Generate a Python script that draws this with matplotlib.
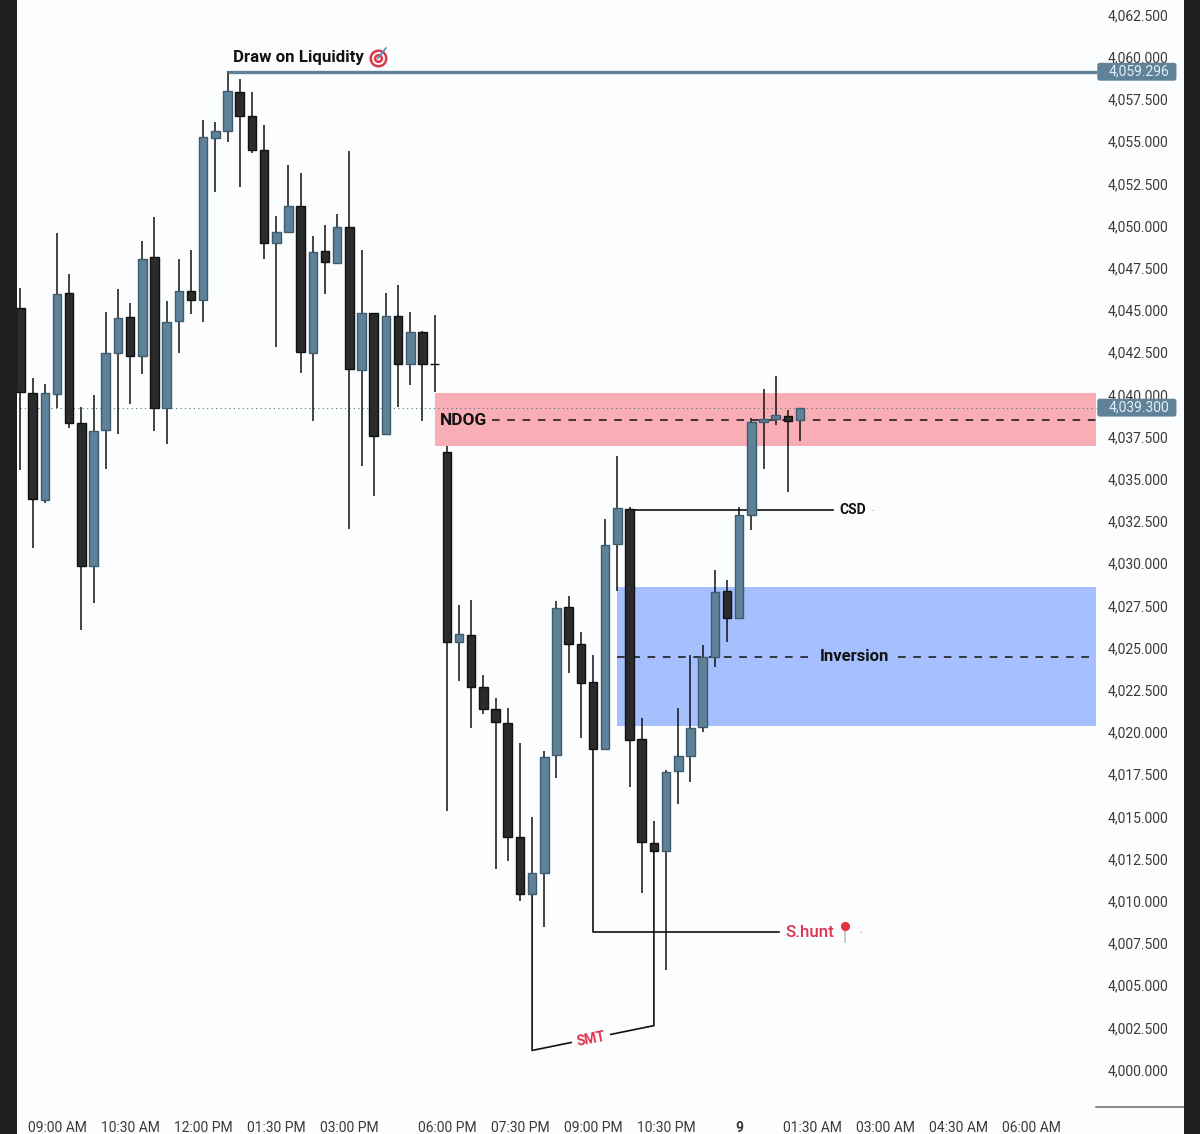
import numpy as np
import matplotlib
matplotlib.use("Agg")
import matplotlib.pyplot as plt
from matplotlib.patches import FancyBboxPatch
from matplotlib.ticker import StrMethodFormatter

plt.rcParams["font.family"] = ["Roboto", "DejaVu Sans"]

BLUE = "#5f8299"
BLUE_EDGE = "#3f5c6f"
DARK = "#2b2b2b"
BG = "#fcfdfe"
RED = "#e0324c"

highs = [4046.39, 4041.06, 4040.70, 4049.65, 4047.22, 4039.34, 4040.05, 4044.97, 4046.33, 4045.50,
         4049.17, 4050.59, 4045.62, 4048.11, 4048.64, 4056.34, 4056.22, 4059.24, 4058.77, 4058.00,
         4056.04, 4050.65, 4053.68, 4053.20, 4049.47, 4050.12, 4050.77, 4054.50, 4048.64, 4044.91,
         4046.09, 4046.57, 4044.97, 4043.84, 4044.79, 4037.03, 4027.61, 4027.91, 4023.46, 4022.10,
         4021.51, 4019.44, 4015.05, 4018.96, 4027.85, 4028.14, 4026.01, 4024.65, 4032.70, 4036.44,
         4033.42, 4020.92, 4014.81, 4017.84, 4021.51, 4024.65, 4025.24, 4029.68, 4029.09, 4033.42,
         4038.69, 4040.41, 4041.18, 4039.16, 4039.30]
lows = [4035.61, 4030.99, 4033.65, 4039.28, 4038.10, 4026.13, 4027.73, 4035.67, 4037.74, 4039.52,
        4041.29, 4037.92, 4037.15, 4042.54, 4044.85, 4044.37, 4052.08, 4055.04, 4052.37, 4054.39,
        4048.11, 4042.89, 4049.71, 4041.35, 4038.51, 4046.03, 4047.87, 4032.11, 4035.84, 4034.07,
        4037.74, 4039.34, 4040.64, 4038.51, 4040.23, 4015.41, 4023.11, 4020.32, 4021.15, 4011.97,
        4012.44, 4010.07, 4010.49, 4008.53, 4017.36, 4023.58, 4019.73, 4019.08, 4019.08, 4028.44,
        4016.83, 4010.55, 4013.04, 4005.99, 4015.82, 4017.12, 4020.09, 4023.94, 4025.42, 4026.84,
        4032.05, 4035.67, 4038.27, 4034.30, 4037.33]
opens = [4045.20, 4040.17, 4033.83, 4040.11, 4046.09, 4038.39, 4029.92, 4037.98, 4042.54, 4044.67,
         4042.36, 4048.23, 4039.28, 4044.43, 4046.21, 4045.68, 4055.27, 4055.69, 4058.00, 4056.58,
         4054.56, 4049.05, 4049.71, 4051.25, 4042.54, 4048.58, 4047.87, 4050.00, 4041.53, 4044.91,
         4037.74, 4044.73, 4041.89, 4043.78, 4041.89, 4036.67, 4025.42, 4025.83, 4022.75, 4021.45,
         4020.62, 4013.87, 4010.49, 4011.73, 4018.72, 4027.49, 4025.30, 4023.05, 4019.08, 4031.22,
         4033.30, 4019.67, 4013.51, 4013.04, 4017.78, 4018.66, 4020.38, 4024.53, 4028.44, 4026.84,
         4032.94, 4038.45, 4038.63, 4038.81, 4038.57]
closes = [4040.25, 4033.89, 4040.19, 4046.03, 4038.39, 4029.92, 4037.92, 4042.54, 4044.61, 4042.36,
          4048.11, 4039.28, 4044.37, 4046.21, 4045.68, 4055.33, 4055.69, 4058.06, 4056.58, 4054.56,
          4049.05, 4049.71, 4051.25, 4042.60, 4048.52, 4047.93, 4050.00, 4041.59, 4044.91, 4037.62,
          4044.73, 4041.89, 4043.78, 4041.89, 4041.89, 4025.42, 4025.89, 4022.75, 4021.45, 4020.68,
          4013.87, 4010.49, 4011.73, 4018.61, 4027.43, 4025.30, 4022.99, 4019.08, 4031.16, 4033.36,
          4019.61, 4013.57, 4013.04, 4017.72, 4018.66, 4020.32, 4024.53, 4028.38, 4026.84, 4032.94,
          4038.45, 4038.63, 4038.87, 4038.51, 4039.30]

time_ticks = [3, 9, 15, 21, 27, 35, 41, 47, 53, 59, 65, 71, 77, 83]
time_labels = ["09:00 AM", "10:30 AM", "12:00 PM", "01:30 PM", "03:00 PM", "06:00 PM", "07:30 PM",
               "09:00 PM", "10:30 PM", "9", "01:30 AM", "03:00 AM", "04:30 AM", "06:00 AM"]
price_ticks = np.arange(4000, 4063, 2.5)

LIQUIDITY = 4059.2
LAST_PRICE = 4039.30
NDOG_TOP, NDOG_MID, NDOG_BOTTOM = 4040.17, 4038.57, 4037.03
INV_TOP, INV_MID, INV_BOTTOM = 4028.67, 4024.53, 4020.44
CSD_LEVEL = 4033.24
SHUNT_LEVEL = 4008.24
SMT_LOW, SMT_HIGH = 4001.22, 4002.69

fig = plt.figure(figsize=(12, 11.34), dpi=100, facecolor="#1e1e1e")
ax = fig.add_axes([17 / 1200, 0, 1167 / 1200, 1], facecolor=BG)
ax.set_xlim(-0.287, 95.52)
ax.set_ylim(3996.27, 4063.45)
for s in ax.spines.values():
    s.set_visible(False)

x = np.arange(len(opens))
opens = np.array(opens)
closes = np.array(closes)
up = closes >= opens
up[34] = False

# zones and levels under the candles
ax.fill_between([34.03, 88.3], NDOG_BOTTOM, NDOG_TOP, color="#f9aeb6", lw=0, zorder=1)
ax.fill_between([49, 88.3], INV_BOTTOM, INV_TOP, color="#a6bffe", lw=0, zorder=1)
ax.plot([0, 88.3], [LAST_PRICE, LAST_PRICE], color="#4d7a78", lw=0.8, ls=(0, (1, 3)), zorder=1.5)
dash = (0, (5, 5))
ax.plot([38.7, 88.3], [NDOG_MID, NDOG_MID], color="#111111", lw=1.1, ls=dash, zorder=2)
ax.plot([49, 64.82], [INV_MID, INV_MID], color="#111111", lw=1.1, ls=dash, zorder=2)
ax.plot([72.05, 88.3], [INV_MID, INV_MID], color="#111111", lw=1.1, ls=dash, zorder=2)

# candles
ax.vlines(x, lows, highs, color="#111111", lw=1.1, zorder=3)
ax.bar(x[up], (closes - opens)[up], bottom=opens[up], width=0.7, color=BLUE,
       edgecolor=BLUE_EDGE, linewidth=1.0, zorder=4)
ax.bar(x[~up], (opens - closes)[~up], bottom=closes[~up], width=0.7, color=DARK,
       edgecolor="#111111", linewidth=1.0, zorder=4)

# liquidity line
ax.plot([17, 88.4], [LIQUIDITY, LIQUIDITY], color=BLUE, lw=2.4, zorder=5, solid_capstyle="butt")
ax.text(17.45, 4060.02, "Draw on Liquidity", fontsize=12.2, fontweight="bold", color="#111111",
        va="center", ha="left", zorder=6)
for size, col in [(13, "#d8384a"), (9.5, "#fbeeee"), (6.5, "#d8384a"), (3, "#fbeeee")]:
    ax.plot([29.35], [4060.01], marker="o", ms=size, color=col, mew=0, zorder=6)
ax.plot([29.35, 30.0], [4060.01, 4060.6], color="#4f8fc0", lw=1.2, zorder=7)

# annotations
ax.text(34.44, NDOG_MID - 0.05, "NDOG", fontsize=12.4, fontweight="bold", color="#111111", va="center", zorder=6)
ax.text(68.43, INV_MID, "Inversion", fontsize=12, fontweight="bold", color="#111111",
        va="center", ha="center", zorder=6)

ax.plot([50, 66.7], [CSD_LEVEL, CSD_LEVEL], color="#111111", lw=1.2, zorder=3.5)
ax.text(67.2, CSD_LEVEL, "CSD", fontsize=10, fontweight="bold", color="#111111", va="center", zorder=6)
ax.plot([70], [CSD_LEVEL], marker="o", ms=1, color="#aaaaaa", mew=0)

ax.plot([47, 47, 62.27], [lows[47], SHUNT_LEVEL, SHUNT_LEVEL], color="#111111", lw=1.2, zorder=3.5)
ax.text(62.77, SHUNT_LEVEL - 0.05, "S.hunt", fontsize=12.2, fontweight="medium", color=RED, va="center", zorder=6)
ax.plot([67.69, 67.69], [4008.59, 4007.65], color="#c9c9c9", lw=1.4, zorder=6)
ax.plot([67.69], [4008.59], marker="o", ms=6.6, color="#e5303f", mew=0, zorder=7)
ax.plot([69.0], [SHUNT_LEVEL], marker="o", ms=1, color="#aaaaaa", mew=0)

ax.plot([42, 42, 52, 52], [lows[42], SMT_LOW, SMT_HIGH, lows[52]], color="#111111", lw=1.2, zorder=3.5)
ax.text(46.84, 4001.9, "SMT", fontsize=10, fontweight="bold", color=RED, rotation=11,
        va="center", ha="center", zorder=6, rotation_mode="anchor",
        bbox=dict(facecolor=BG, edgecolor="none", pad=3.5))

# axes labels
ax.yaxis.tick_right()
ax.set_yticks(price_ticks)
ax.yaxis.set_major_formatter(StrMethodFormatter("{x:,.3f}"))
ax.tick_params(axis="y", length=0, pad=-11, labelsize=10, labelcolor="#3a3a3a")
for lab in ax.get_yticklabels():
    lab.set_ha("right")
    lab.set_va("center")
ax.set_xticks(time_ticks)
ax.set_xticklabels(time_labels)
ax.tick_params(axis="x", length=0, pad=-4.3, labelsize=10, labelcolor="#3a3a3a")
for lab, txt in zip(ax.get_xticklabels(), time_labels):
    lab.set_va("center")
    if txt == "9":
        lab.set_fontweight("bold")

# price tags on the scale, text sits on top of the tick label behind it
for level, txt in [(LIQUIDITY, "4,059.296"), (LAST_PRICE, "4,039.300")]:
    tag = FancyBboxPatch((88.4, level - 0.53), 6.5, 1.06, boxstyle="round,pad=0,rounding_size=0.2",
                         mutation_aspect=0.72, facecolor=BLUE, edgecolor="none", zorder=8)
    ax.add_patch(tag)
    ax.text(94.3, level, txt, fontsize=10, color="#e4eef5", va="center", ha="right", zorder=9)

ax.plot([88.3, 95.52], [3997.87, 3997.87], color="#777777", lw=1.2, zorder=2)

fig.savefig("out.png", dpi=100, facecolor=fig.get_facecolor())
